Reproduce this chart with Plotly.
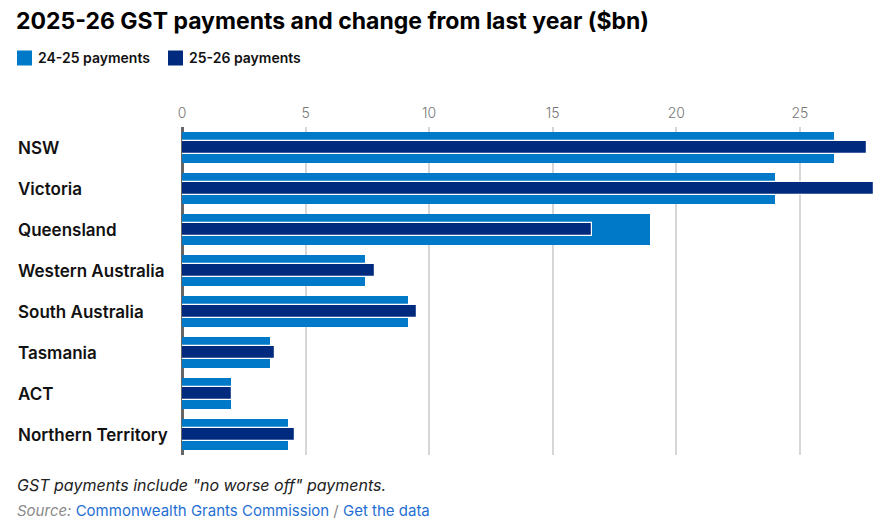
import plotly.graph_objects as go

states = ["NSW", "Victoria", "Queensland", "Western Australia", "South Australia",
          "Tasmania", "ACT", "Northern Territory"]
pay_2425 = [26.4, 24.0, 18.95, 7.41, 9.14, 3.58, 2.00, 4.30]
pay_2526 = [27.7, 28.0, 16.6, 7.81, 9.50, 3.78, 2.04, 4.58]
series_names = ["24-25 payments", "25-26 payments"]
x_ticks = [0, 5, 10, 15, 20, 25]

W, H = 884, 522
ML, MR, MT, MB = 182, 10, 127, 67
PW = W - ML - MR
PH = H - MT - MB

def px_x(px):
    return (px - ML) / PW

def px_y(py):
    return 1 - (py - MT) / PH

LIGHT = "#007ac8"
DARK = "#002a7e"
FONT = "Inter"

fig = go.Figure()
fig.add_trace(go.Bar(
    y=states, x=pay_2425, orientation="h", name=series_names[0],
    marker=dict(color=LIGHT, line=dict(width=0)), width=0.76,
    hoverinfo="x+y", showlegend=False,
))
fig.add_trace(go.Bar(
    y=states, x=pay_2526, orientation="h", name=series_names[1],
    marker=dict(color=DARK, line=dict(width=1.2, color="white")), width=0.33,
    hoverinfo="x+y", showlegend=False,
))

annotations = []
shapes = []
for s in states:
    annotations.append(dict(
        x=px_x(18), xref="paper", y=s, yref="y", text=s, showarrow=False,
        xanchor="left", yanchor="middle", xshift=-2,
        font=dict(family=FONT, size=17, color="#111111", weight=600),
    ))

# legend (manual, to match layout)
legend_x = [17, 168]
for name, color, lx in zip(series_names, [LIGHT, DARK], legend_x):
    shapes.append(dict(
        type="rect", xref="paper", yref="paper",
        x0=px_x(lx), x1=px_x(lx + 15), y0=px_y(65.5), y1=px_y(50.5),
        fillcolor=color, line=dict(width=0),
    ))
    annotations.append(dict(
        x=px_x(lx + 21), xref="paper", y=px_y(58), yref="paper", text=name,
        showarrow=False, xanchor="left", yanchor="middle", xshift=-2,
        font=dict(family=FONT, size=14, color="#111111", weight=600),
    ))

annotations.append(dict(
    x=px_x(17), xref="paper", y=px_y(485), yref="paper", showarrow=False,
    xanchor="left", yanchor="middle", xshift=-2,
    text="<i>GST payments include \"no worse off\" payments.</i>",
    font=dict(family=FONT, size=16, color="#222222"),
))
annotations.append(dict(
    x=px_x(17), xref="paper", y=px_y(510), yref="paper", showarrow=False,
    xanchor="left", yanchor="middle", xshift=-2,
    text=("<i>Source:</i> <span style='color:#1f6fd3'>Commonwealth Grants Commission</span>"
          " / <span style='color:#1f6fd3'>Get the data</span>"),
    font=dict(family=FONT, size=15, color="#8a8a8a"),
))

fig.update_layout(
    width=W, height=H,
    margin=dict(l=ML, r=MR, t=MT, b=MB, pad=0),
    paper_bgcolor="white", plot_bgcolor="white",
    barmode="overlay",
    bargap=0,
    showlegend=False,
    title=dict(
        text="<b>2025-26 GST payments and change from last year ($bn)</b>",
        x=16 / W, xref="container", xanchor="left",
        y=1 - 21 / H, yref="container", yanchor="middle",
        font=dict(family=FONT, size=23, color="#000000", weight=800),
    ),
    xaxis=dict(
        side="top", range=[0, max(pay_2526)], tickvals=x_ticks,
        showgrid=True, gridcolor="#d6d6d6", gridwidth=1.5,
        zeroline=True, zerolinecolor="#666666", zerolinewidth=2.5,
        showline=False, ticks="", ticklabelstandoff=5,
        tickfont=dict(family=FONT, size=14, color="#777777", weight=300),
        fixedrange=True,
    ),
    yaxis=dict(
        autorange="reversed", showticklabels=False, showgrid=False,
        ticks="", showline=False, fixedrange=True,
    ),
    annotations=annotations,
    shapes=shapes,
)

fig.write_html("out.html", config={"displayModeBar": False},
               post_script="document.body.style.margin='0';")
